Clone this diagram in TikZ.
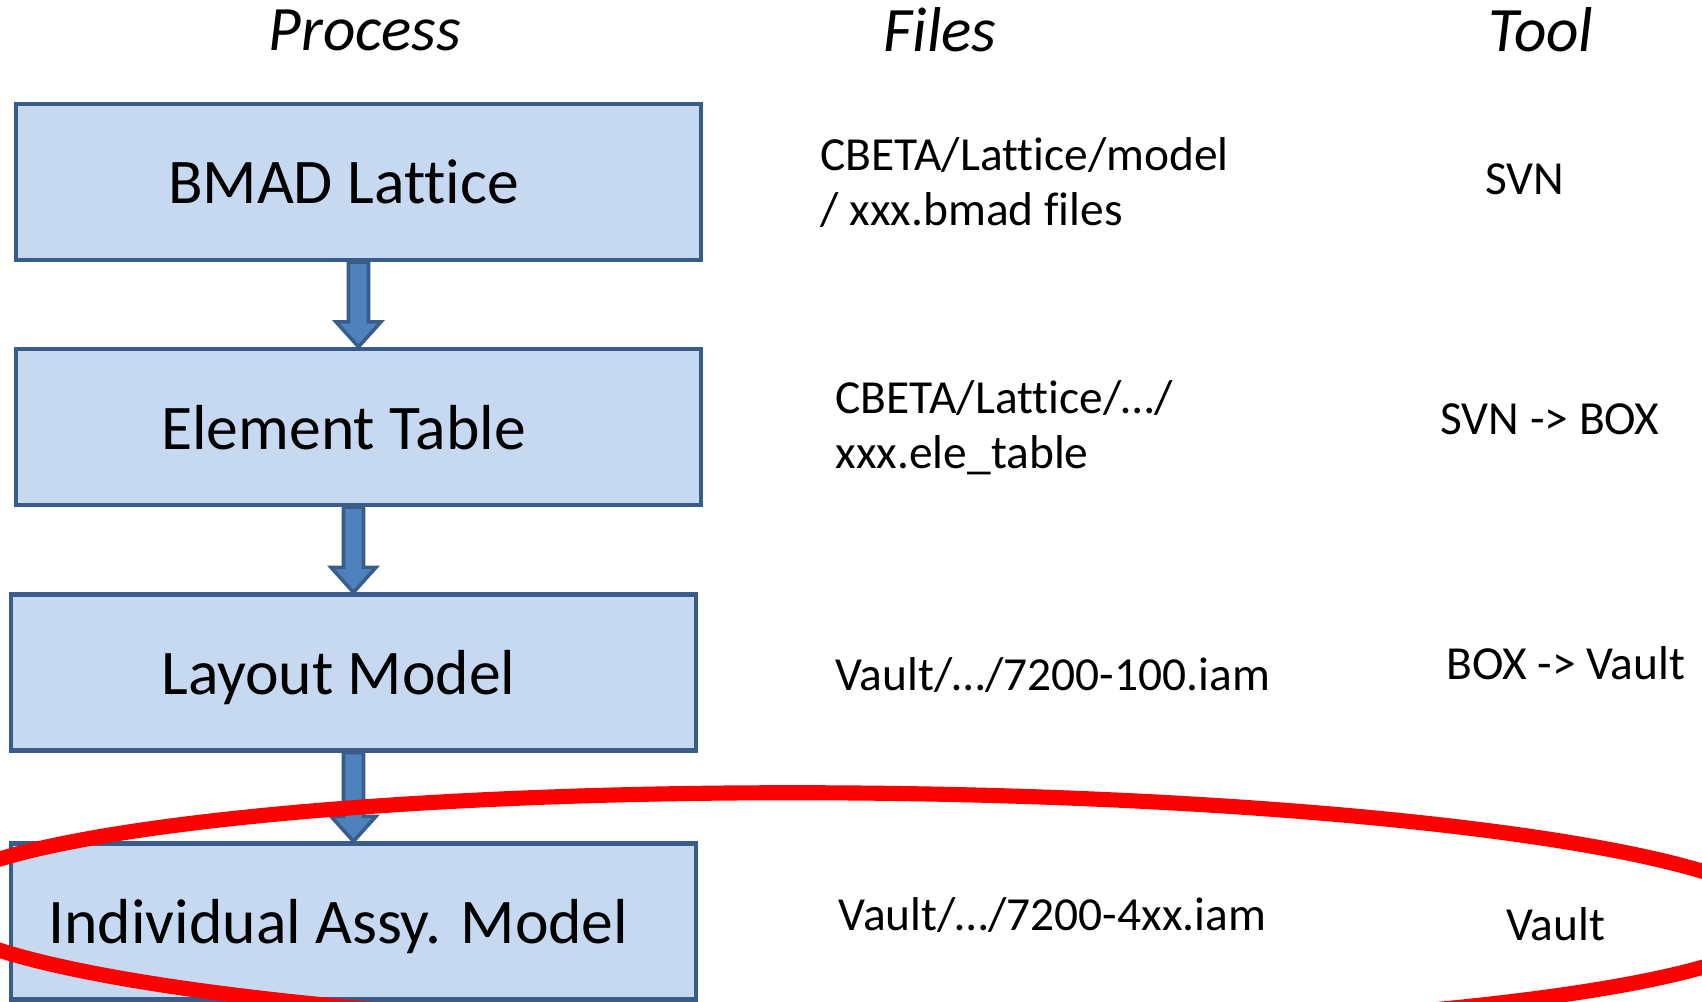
\documentclass[tikz,border=0pt]{standalone}
\usepackage{fontspec}
\setmainfont{Carlito}[Ligatures=NoCommon]
\usetikzlibrary{calc}
\definecolor{boxfill}{RGB}{198,217,241}
\definecolor{boxline}{RGB}{56,93,138}
\definecolor{arrfill}{RGB}{79,129,189}
% block arrow from the bottom of #1 to the top of #2
\newcommand{\flowarrow}[2]{%
 \path[flowarr] ($(#1.south -| #2.north)+(-0.1,0)$) -- ($(#2.north)+(-0.1,0.25)$) -- ++(-0.125,0)
  -- (#2.north) -- ++(0.225,0.25) -- ++(-0.125,0) -- ($(#1.south -| #2.north)+(0.1,0)$) -- cycle;}

\begin{document}
\begin{tikzpicture}[
 proc/.style={draw=boxline,fill=boxfill,line width=1.2pt,minimum width=6.85cm,minimum height=1.56cm,
  label={[font=\fontsize{18.1}{22}\selectfont,text depth=0pt,xshift=-1.5mm]center:#1}},
 head/.style={font=\fontsize{18}{22}\selectfont\itshape},
 file/.style={font=\fontsize{13.5}{15.6}\selectfont,anchor=west,align=left,inner sep=0pt},
 tool/.style={font=\fontsize{13.5}{15.6}\selectfont},
 flowarr/.style={draw=boxline,fill=arrfill,line width=1pt,line join=miter},
 ring/.style={draw=red,line width=4.3pt}]
\clip (0,0) rectangle (17.02,-10.02);
\node[head] (hp) at (3.65,-0.30) {Process};
\node[head] (hf) at (9.40,-0.30) {Files};
\node[head] (ht) at (15.41,-0.30) {Tool};
\node[proc=BMAD Lattice] (p1) at (3.585,-1.82) {};
\node[proc=Element Table] (p2) at (3.585,-4.27) {};
\node[proc=Layout Model] (p3) at (3.535,-6.725) {};
\node[proc=Individual Assy. Model] (p4) at (3.535,-9.215) {};
\node[file] (f1) at (8.20,-1.825) {CBETA/Lattice/model\\/ xxx.bmad files};
\node[file] (f2) at (8.35,-4.28) {CBETA/Lattice/…/\\xxx.ele\_table};
\node[file] (f3) at (8.35,-6.75) {Vault/…/7200-100.iam};
\node[file] (f4) at (8.38,-9.15) {Vault/…/7200-4xx.iam};
\node[tool] (t1) at (15.25,-1.79) {SVN};
\node[tool] (t2) at (15.50,-4.19) {SVN -> BOX};
\node[tool] (t3) at (15.66,-6.63) {BOX -> Vault};
\node[tool] (t4) at (15.56,-9.24) {Vault};
\flowarrow{p1}{p2}
\flowarrow{p2}{p3}
\flowarrow{p3}{p4}
\draw[ring,rotate around={-0.5:(8.55,-9.12)}] (8.55,-9.12) ellipse [x radius=9.26cm,y radius=1.19cm];
\end{tikzpicture}
\end{document}
